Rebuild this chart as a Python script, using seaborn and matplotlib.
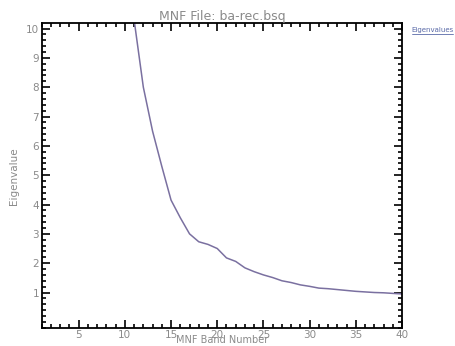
import numpy as np
import pandas as pd
import seaborn as sns
import matplotlib.pyplot as plt
from matplotlib.ticker import MultipleLocator
from matplotlib.lines import Line2D

# MNF band number vs eigenvalue (bands 1-10 are off the top of the plot)
bands = list(range(11, 41))
eigenvalues = [10.3, 8.0, 6.5, 5.3, 4.15, 3.55, 3.0, 2.73, 2.64, 2.5,
               2.18, 2.06, 1.84, 1.71, 1.6, 1.51, 1.4, 1.34, 1.26, 1.21,
               1.15, 1.13, 1.1, 1.07, 1.04, 1.02, 1.0, 0.99, 0.97, 0.95]

title = 'MNF File: ba-rec.bsq'
xlabel = 'MNF Band Number'
ylabel = 'Eigenvalue'
legend_label = 'Eigenvalues'
xticks = [5, 10, 15, 20, 25, 30, 35, 40]
yticks = [1, 2, 3, 4, 5, 6, 7, 8, 9, 10]

df = pd.DataFrame({'band': bands, 'eigenvalue': eigenvalues})

sns.set_style('ticks')
plt.rcParams['font.family'] = ['DejaVu Sans']

text_col = '#8a8a8a'
line_col = '#7a70a0'

fig = plt.figure(figsize=(4.55, 3.46), dpi=100)
ax = fig.add_axes([0.0917, 0.0512, 0.7918, 0.8815])

sns.lineplot(data=df, x='band', y='eigenvalue', ax=ax, color=line_col, linewidth=1.1)

ax.set_xlim(1, 40)
ax.set_ylim(-0.22, 10.18)
ax.set_xticks(xticks)
ax.set_yticks(yticks)
ax.xaxis.set_minor_locator(MultipleLocator(1))
ax.yaxis.set_minor_locator(MultipleLocator(0.2))
ax.tick_params(which='both', direction='in', top=True, right=True, colors='black',
               labelcolor=text_col, labelsize=7.5, width=1.2)
ax.tick_params(which='major', length=6)
ax.tick_params(axis='x', which='major', pad=1)
ax.tick_params(axis='y', which='major', pad=2)
ax.tick_params(which='minor', length=3)
for s in ax.spines.values():
    s.set_linewidth(1.3)
    s.set_color('black')

ax.set_xlabel(xlabel, color=text_col, fontsize=7, labelpad=-3.5)
ax.set_ylabel(ylabel, color=text_col, fontsize=7.5, labelpad=5)
ax.set_title(title, color=text_col, fontsize=9, pad=2)

fig.text(0.905, 0.905, legend_label, color='#5a6aa8', fontsize=5, ha='left', va='bottom')
fig.add_artist(Line2D([0.905, 0.995], [0.902, 0.902], color='#5a6aa8', linewidth=0.6))

fig.savefig('out.png', dpi=100, facecolor='white')
